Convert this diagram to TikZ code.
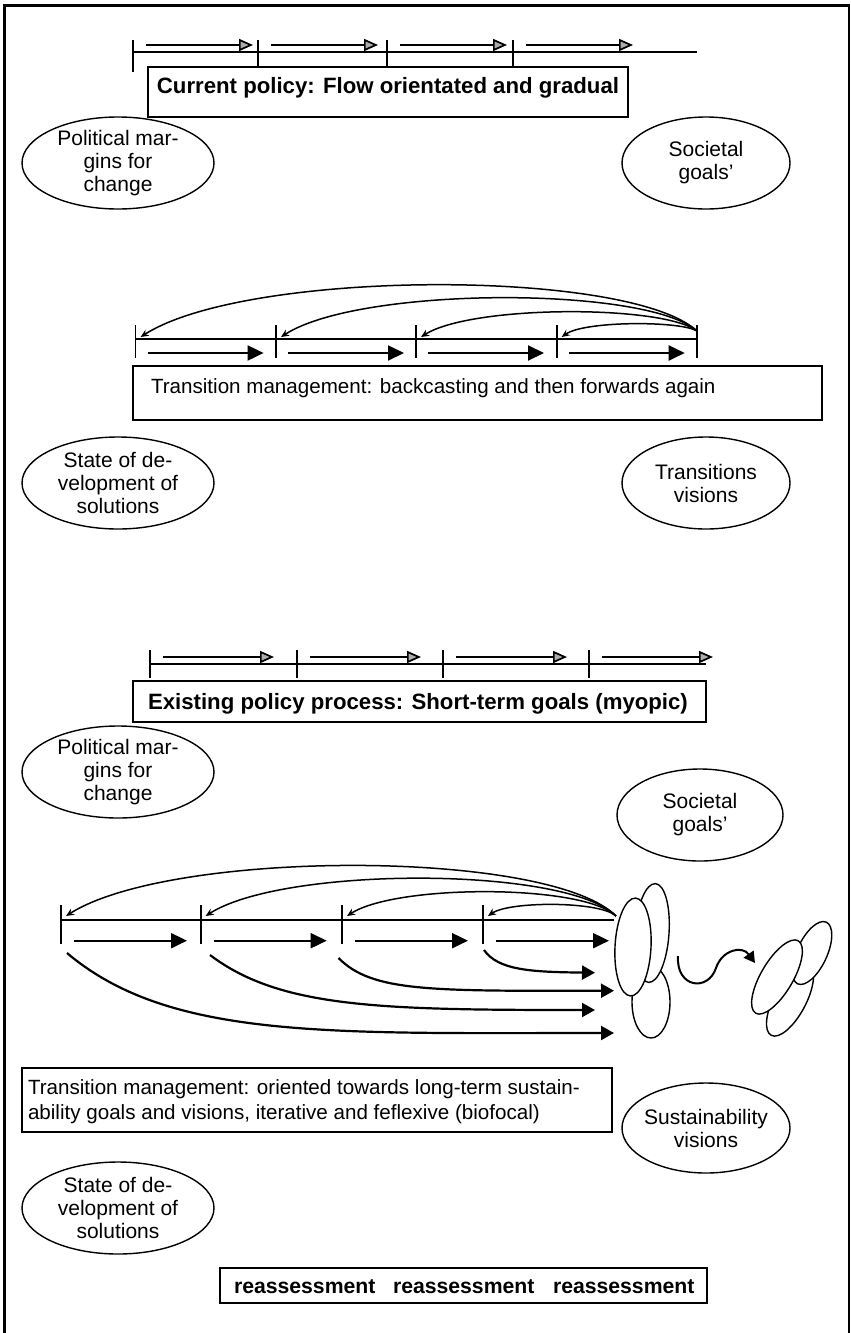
\documentclass[tikz,border=0pt]{standalone}
\usepackage{fontspec}
\setmainfont{Liberation Sans}
\usetikzlibrary{shapes.geometric,arrows.meta}
\begin{document}
\begin{tikzpicture}[x=1pt,y=-1pt,
  every node/.style={inner sep=0pt,outer sep=0pt},
  frameline/.style={line width=2.6pt},
  axisline/.style={line width=2pt},
  tickline/.style={line width=1.6pt},
  grayhead/.style={line width=1.7pt,-{Triangle[length=14pt,width=12pt,fill=gray!65]}},
  fwd/.style={line width=2pt,-{Triangle[length=16pt,width=15pt]}},
  back/.style={line width=1.5pt,-{Stealth[length=8pt,width=7pt]}},
  sweep/.style={line width=2.2pt,-{Triangle[length=13pt,width=14pt]}},
  oval/.style={ellipse,draw,line width=1.4pt},
  blob/.style={draw,line width=1.4pt,fill=white},
  ovaltext/.style={align=center,font=\fontsize{21}{23}\selectfont},
  headbox/.style={draw,line width=2pt},
  bodyfont/.style={font=\fontsize{20.6}{25}\selectfont},
  boldfont/.style={font=\fontsize{22.2}{26}\selectfont\bfseries},
  smallbold/.style={font=\fontsize{21.2}{24}\selectfont\bfseries},
]
\useasboundingbox (0,0) rectangle (851,1333);

% outer frame
\draw[frameline] (4.5,1333) -- (4.5,5.5) -- (850,5.5);
\draw[line width=1.6pt] (849,5.5) -- (849,1333);

% ---------- current policy ----------
\foreach \t in {133,258,387,513} {
  \draw[grayhead] ({\t+13},45) -- ({\t+120},45);
}
\draw[tickline] (133,40) -- (133,72);
\foreach \t in {258,387,513} \draw[tickline] (\t,40) -- (\t,67);
\draw[axisline] (133,52) -- (697,52);
\node[headbox,minimum width=480pt,minimum height=50pt] (box1) at (388,92) {};
\node[boldfont,anchor=base] (cur) at (388,93) {Current policy: Flow orientated and gradual};

% ---------- transition management (backcasting) ----------
\node[oval,minimum width=192pt,minimum height=92pt] (pm1) at (118,163) {};
\node[ovaltext] (pm1t) at (pm1) {Political mar-\\gins for\\change};
\node[oval,minimum width=168pt,minimum height=92pt] (sg1) at (706,163) {};
\node[ovaltext] (sg1t) at (sg1) {Societal\\goals'};

\coordinate (g2) at (697,331);
\foreach \t/\c in {135.6/268.7,276/286,416/304.7,556.7/320.7} {
  \draw[back] (g2) .. controls ({697-0.12*(697-\t)},\c) and ({\t+0.2*(697-\t)},\c) .. ({\t+5},337);
}
\foreach \t in {135.6,276,416,556.7,697} \draw[tickline] (\t,325) -- (\t,358);
\draw[axisline] (135.6,339) -- (697,339);
\foreach \t in {135.6,276,416,556.7} \draw[fwd] ({\t+12},353) -- ({\t+128},353);

\node[headbox,minimum width=689pt,minimum height=54pt] (box2) at (477.5,393) {};
\node[bodyfont,anchor=base west] (tm1) at (151,393) {Transition management: backcasting and then forwards again};

\node[oval,minimum width=192pt,minimum height=92pt] (sd1) at (118,483) {};
\node[ovaltext] (sd1t) at (sd1) {State of de-\\velopment of\\solutions};
\node[oval,minimum width=168pt,minimum height=92pt] (tv1) at (706,483) {};
\node[ovaltext] (tv1t) at (tv1) {Transitions\\visions};

% ---------- existing policy process ----------
\foreach \t in {150,297,443,589} {
  \draw[tickline] (\t,650) -- (\t,678);
  \draw[grayhead] ({\t+13},657) -- ({\t+124},657);
}
\draw[axisline] (150,664) -- (706,664);
\node[headbox,minimum width=573pt,minimum height=41pt] (box3) at (419.5,701.5) {};
\node[boldfont,anchor=base west] (ex) at (148,709) {Existing policy process: Short-term goals (myopic)};

% ---------- transition management (long-term) ----------
\node[oval,minimum width=192pt,minimum height=92pt] (pm2) at (118,772) {};
\node[ovaltext] (pm2t) at (pm2) {Political mar-\\gins for\\change};
\node[oval,minimum width=166pt,minimum height=92pt] (sg2) at (700,815) {};
\node[ovaltext] (sg2t) at (sg2) {Societal\\goals'};

% goal cluster
\draw[blob] (651,1002) ellipse [x radius=19pt,y radius=36pt];
\draw[blob,rotate around={-4:(652,933)}] (652,933) ellipse [x radius=17pt,y radius=49.5pt];
\draw[blob,rotate around={-3:(633,947)}] (633,947) ellipse [x radius=18pt,y radius=49pt];
\coordinate (g4) at (616,916);

\foreach \t/\c in {61/849,200.7/866,342/884,483/901} {
  \draw[back] (g4) .. controls ({616-0.12*(616-\t)},\c) and ({\t+0.2*(616-\t)},\c) .. ({\t+5},916);
}
\foreach \t in {61,200.7,342,483} \draw[tickline] (\t,905) -- (\t,944);
\draw[axisline] (61,920) -- (614,920);
\foreach \t in {61,200.7,342,483} \draw[fwd] ({\t+13},940.7) -- ({\t+126},940.7);

\draw[sweep] (67,953) .. controls (170,1040) and (330,1033) .. (614,1033);
\draw[sweep] (210,955) .. controls (280,1008) and (380,1010) .. (595,1010);
\draw[sweep] (338.5,958) .. controls (372,992) and (430,991) .. (614,990.7);
\draw[sweep] (484,950) .. controls (498,970) and (530,972) .. (595,972.7);

% shift to the new cluster
\draw[line width=2pt,-{Triangle[length=11pt,width=12pt]}] (678,956) .. controls (676,988) and (708,992) .. (716,968) .. controls (722,950) and (742,945) .. (755,963);

\draw[blob,rotate around={62:(790,1000)}] (790,1000) ellipse [x radius=40pt,y radius=16pt];
\draw[blob,rotate around={65:(812,953)}] (812,953) ellipse [x radius=34pt,y radius=15pt];
\draw[blob,rotate around={59.5:(777,977)}] (777,977) ellipse [x radius=42pt,y radius=16pt];

\node[headbox,minimum width=590pt,minimum height=64pt] (box4) at (317,1100) {};
\node[bodyfont,anchor=base west] (tm2a) at (28,1094) {Transition management: oriented towards long-term sustain-};
\node[bodyfont,anchor=base west] (tm2b) at (28,1119) {ability goals and visions, iterative and feflexive (biofocal)};

\node[oval,minimum width=168pt,minimum height=90pt] (sv) at (706,1128) {};
\node[ovaltext] (svt) at (sv) {Sustainability\\visions};

\node[oval,minimum width=192pt,minimum height=92pt] (sd2) at (118,1208) {};
\node[ovaltext] (sd2t) at (sd2) {State of de-\\velopment of\\solutions};

\node[headbox,minimum width=487pt,minimum height=35pt] (box5) at (463.5,1285.5) {};
\node[smallbold,anchor=base west] (ra) at (234,1293) {reassessment};
\node[smallbold,anchor=base west] (rb) at (393,1293) {reassessment};
\node[smallbold,anchor=base west] (rc) at (553,1293) {reassessment};
\end{tikzpicture}
\end{document}
